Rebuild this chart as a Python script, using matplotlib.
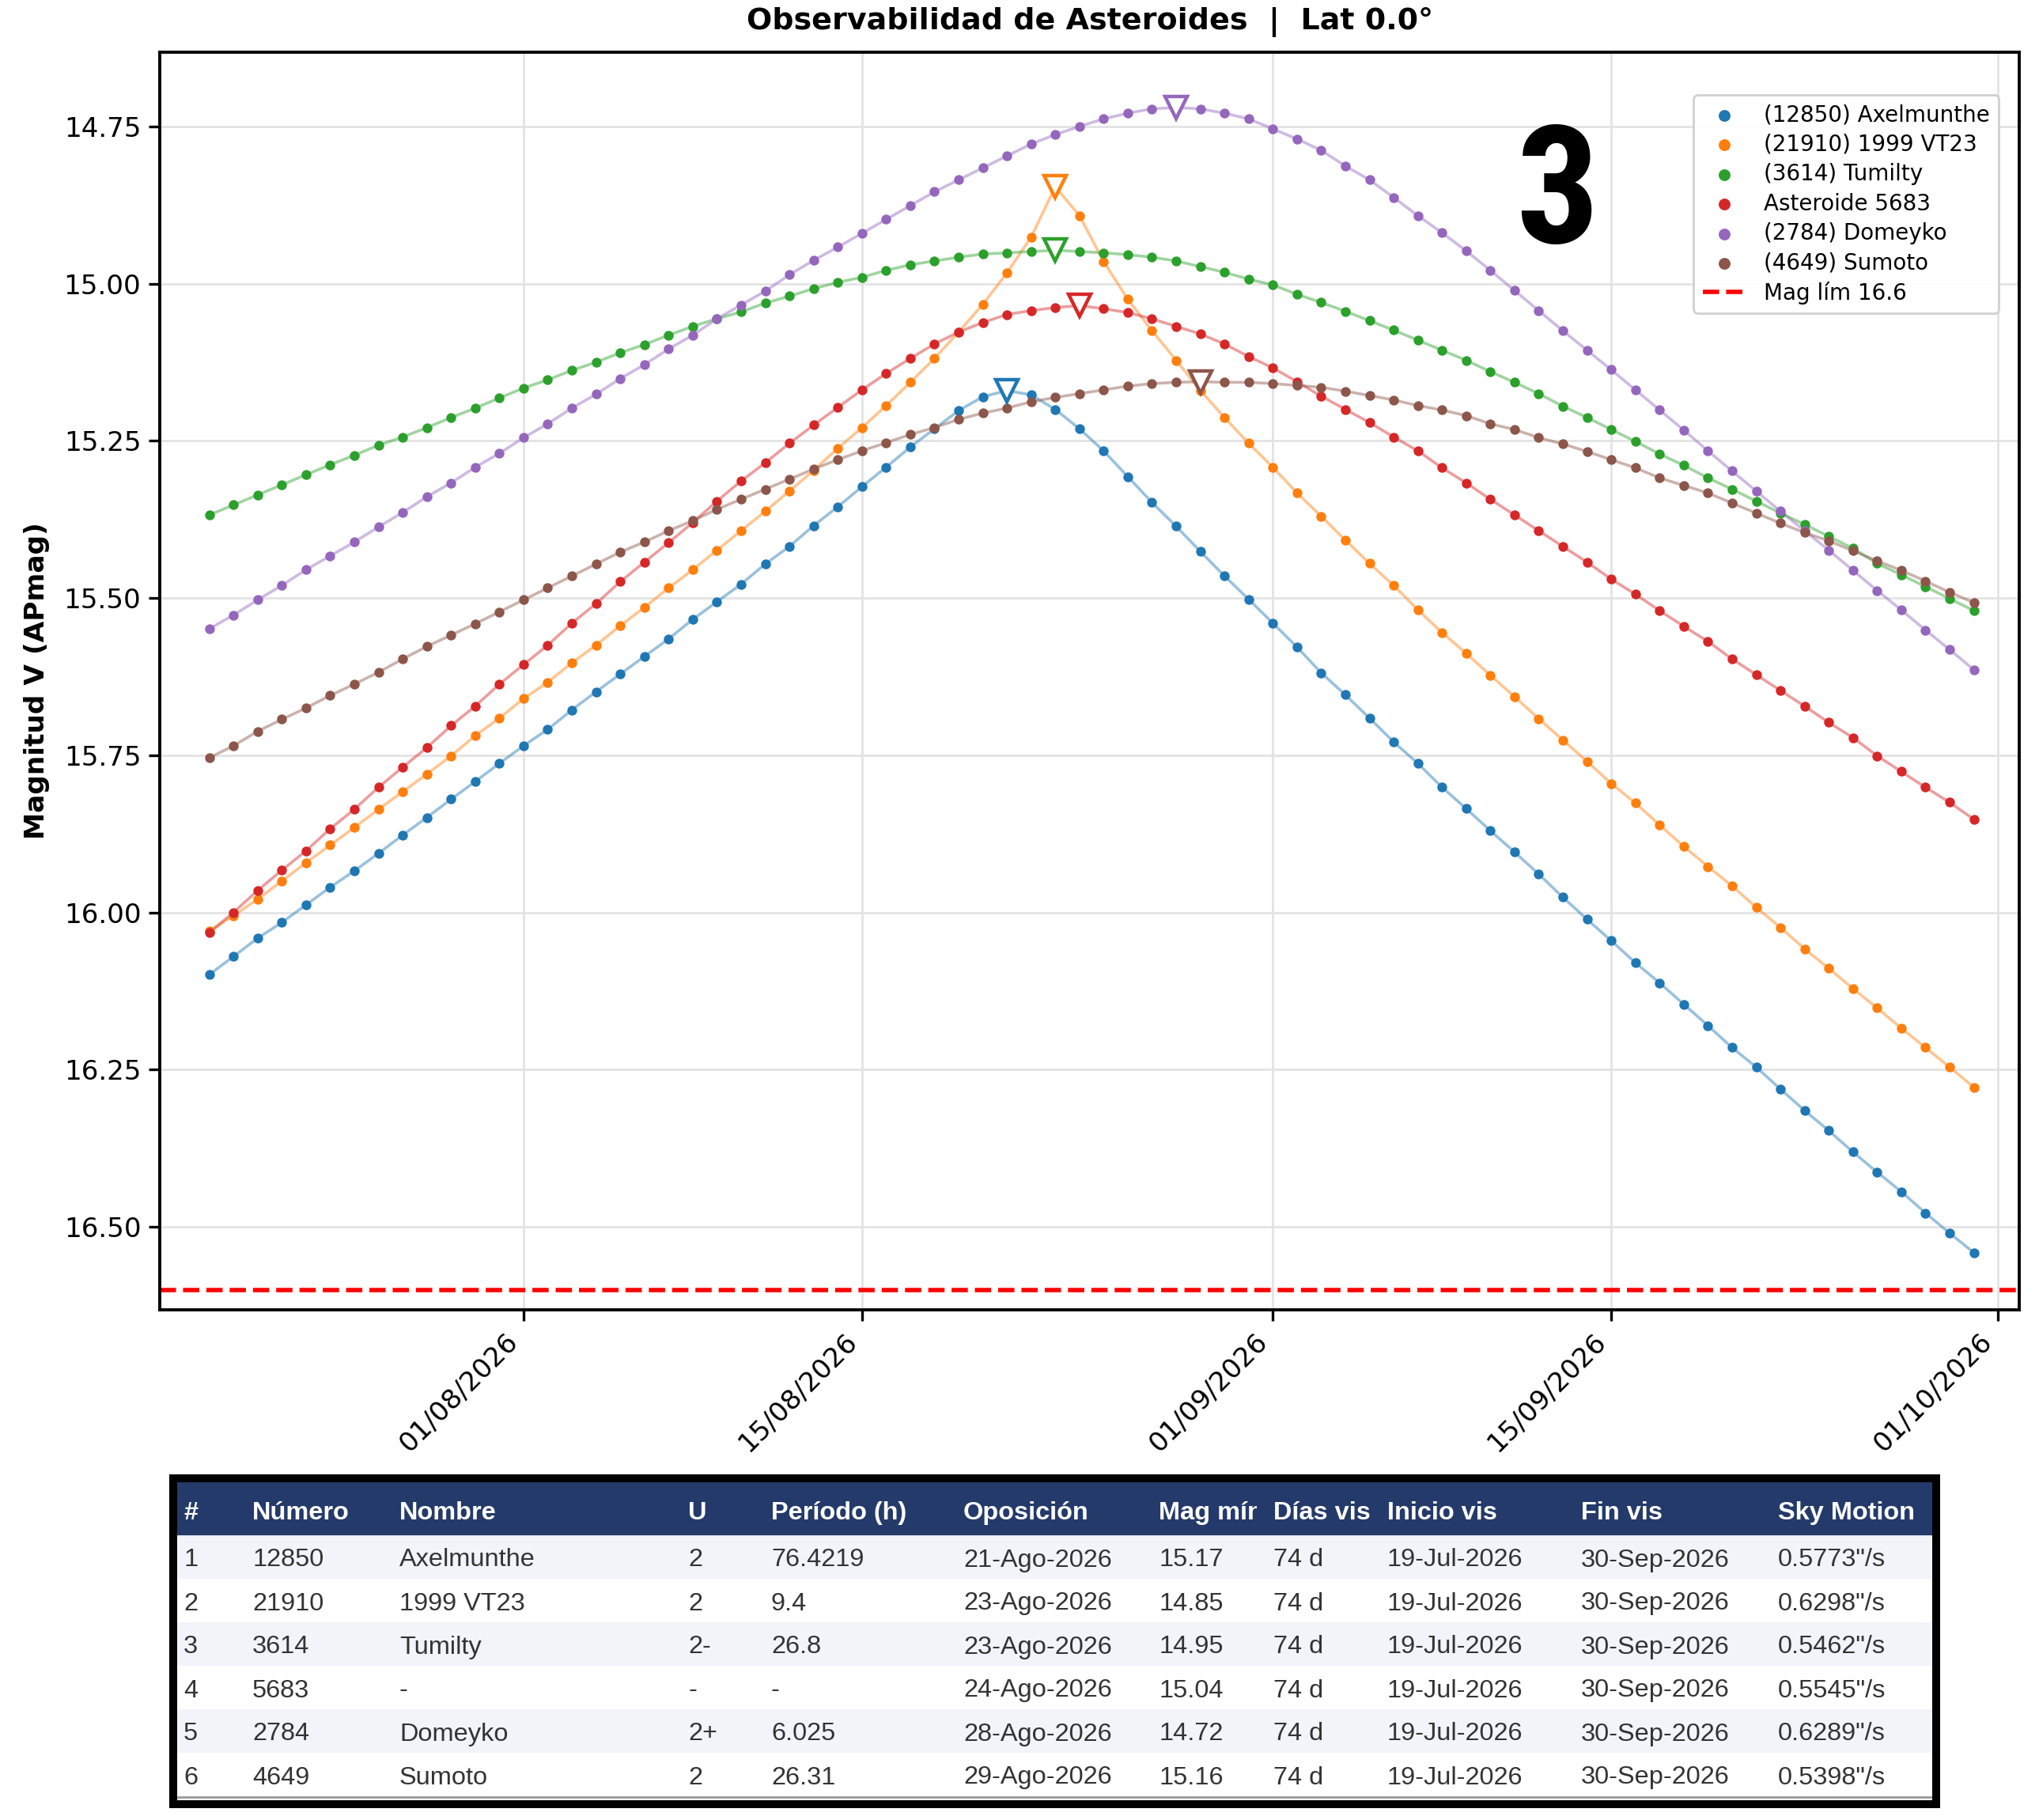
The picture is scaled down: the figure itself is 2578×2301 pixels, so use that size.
import numpy as np
import pandas as pd
import matplotlib
matplotlib.use('Agg')
import matplotlib.pyplot as plt
import matplotlib.dates as mdates
from matplotlib.patches import Rectangle

# daily ephemeris points, 19-Jul-2026 .. 30-Sep-2026
dates = pd.date_range('2026-07-19', periods=74, freq='D')

labels = ['(12850) Axelmunthe', '(21910) 1999 VT23', '(3614) Tumilty',
          'Asteroide 5683', '(2784) Domeyko', '(4649) Sumoto']
colors = ['#1f77b4', '#ff7f0e', '#2ca02c', '#d62728', '#9467bd', '#8c564b']

mag_12850 = [16.099, 16.070, 16.041, 16.016, 15.988, 15.960, 15.934, 15.906, 15.877, 15.849,
             15.820, 15.792, 15.763, 15.735, 15.709, 15.678, 15.649, 15.621, 15.593, 15.565,
             15.534, 15.506, 15.478, 15.446, 15.418, 15.385, 15.355, 15.323, 15.292, 15.260,
             15.231, 15.202, 15.180, 15.170, 15.177, 15.200, 15.231, 15.266, 15.307, 15.348,
             15.386, 15.426, 15.465, 15.502, 15.540, 15.578, 15.619, 15.654, 15.691, 15.729,
             15.763, 15.801, 15.835, 15.870, 15.904, 15.939, 15.976, 16.011, 16.045, 16.080,
             16.112, 16.146, 16.180, 16.215, 16.246, 16.281, 16.315, 16.347, 16.381, 16.413,
             16.444, 16.478, 16.510, 16.541]
mag_21910 = [16.030, 16.005, 15.979, 15.950, 15.921, 15.893, 15.865, 15.836, 15.808, 15.780,
             15.751, 15.719, 15.691, 15.660, 15.634, 15.603, 15.575, 15.544, 15.515, 15.484,
             15.455, 15.424, 15.393, 15.362, 15.330, 15.297, 15.262, 15.229, 15.194, 15.157,
             15.119, 15.077, 15.033, 14.983, 14.926, 14.846, 14.892, 14.965, 15.025, 15.075,
             15.122, 15.170, 15.213, 15.254, 15.292, 15.333, 15.370, 15.408, 15.445, 15.480,
             15.519, 15.555, 15.588, 15.623, 15.657, 15.692, 15.726, 15.760, 15.795, 15.826,
             15.861, 15.895, 15.927, 15.958, 15.992, 16.024, 16.058, 16.089, 16.121, 16.152,
             16.184, 16.215, 16.246, 16.278]
mag_3614 = [15.368, 15.352, 15.336, 15.320, 15.304, 15.288, 15.273, 15.257, 15.244, 15.229,
            15.213, 15.198, 15.182, 15.166, 15.153, 15.138, 15.125, 15.110, 15.097, 15.082,
            15.068, 15.056, 15.045, 15.031, 15.020, 15.008, 14.998, 14.990, 14.979, 14.970,
            14.964, 14.958, 14.953, 14.951, 14.949, 14.947, 14.949, 14.951, 14.954, 14.958,
            14.964, 14.973, 14.982, 14.993, 15.002, 15.017, 15.030, 15.044, 15.059, 15.074,
            15.090, 15.106, 15.122, 15.140, 15.157, 15.175, 15.195, 15.213, 15.232, 15.251,
            15.271, 15.289, 15.309, 15.327, 15.346, 15.365, 15.383, 15.402, 15.421, 15.445,
            15.463, 15.482, 15.501, 15.520]
mag_5683 = [16.032, 16.000, 15.965, 15.933, 15.902, 15.867, 15.836, 15.801, 15.769, 15.738,
            15.703, 15.672, 15.637, 15.606, 15.575, 15.540, 15.509, 15.474, 15.443, 15.412,
            15.380, 15.346, 15.314, 15.285, 15.254, 15.225, 15.197, 15.169, 15.143, 15.119,
            15.096, 15.077, 15.062, 15.049, 15.043, 15.038, 15.035, 15.040, 15.046, 15.056,
            15.068, 15.080, 15.096, 15.116, 15.134, 15.156, 15.179, 15.200, 15.221, 15.244,
            15.266, 15.293, 15.317, 15.343, 15.368, 15.393, 15.418, 15.443, 15.470, 15.494,
            15.520, 15.545, 15.569, 15.597, 15.622, 15.647, 15.672, 15.698, 15.722, 15.751,
            15.776, 15.801, 15.825, 15.852]
mag_2784 = [15.549, 15.527, 15.503, 15.480, 15.455, 15.433, 15.411, 15.387, 15.364, 15.339,
            15.317, 15.292, 15.270, 15.245, 15.223, 15.198, 15.176, 15.151, 15.129, 15.104,
            15.082, 15.056, 15.034, 15.012, 14.986, 14.963, 14.942, 14.920, 14.898, 14.876,
            14.854, 14.835, 14.816, 14.797, 14.778, 14.763, 14.750, 14.738, 14.729, 14.722,
            14.720, 14.722, 14.729, 14.738, 14.754, 14.770, 14.788, 14.813, 14.835, 14.863,
            14.892, 14.919, 14.948, 14.979, 15.011, 15.043, 15.075, 15.106, 15.137, 15.169,
            15.201, 15.233, 15.266, 15.298, 15.330, 15.362, 15.393, 15.424, 15.456, 15.488,
            15.519, 15.551, 15.582, 15.614]
mag_4649 = [15.754, 15.735, 15.712, 15.693, 15.675, 15.655, 15.637, 15.618, 15.597, 15.577,
            15.559, 15.541, 15.522, 15.503, 15.484, 15.465, 15.446, 15.427, 15.411, 15.393,
            15.377, 15.359, 15.343, 15.327, 15.311, 15.295, 15.280, 15.266, 15.253, 15.240,
            15.229, 15.216, 15.206, 15.198, 15.188, 15.181, 15.175, 15.169, 15.163, 15.159,
            15.157, 15.156, 15.157, 15.157, 15.159, 15.162, 15.165, 15.171, 15.178, 15.185,
            15.194, 15.201, 15.210, 15.223, 15.232, 15.245, 15.255, 15.267, 15.280, 15.293,
            15.309, 15.321, 15.333, 15.349, 15.365, 15.381, 15.396, 15.409, 15.425, 15.441,
            15.456, 15.473, 15.491, 15.507]
series = [mag_12850, mag_21910, mag_3614, mag_5683, mag_2784, mag_4649]

# day index of opposition (open triangle marker)
opp_idx = [33, 35, 35, 36, 40, 41]
mag_lim = 16.6

yticks = [14.75, 15.00, 15.25, 15.50, 15.75, 16.00, 16.25, 16.50]
xticks = ['2026-08-01', '2026-08-15', '2026-09-01', '2026-09-15', '2026-10-01']

# table contents
col_names = ['#', 'Número', 'Nombre', 'U', 'Período (h)', 'Oposición', 'Mag mín',
             'Días vis', 'Inicio vis', 'Fin vis', 'Sky Motion']
tbl_num = ['12850', '21910', '3614', '5683', '2784', '4649']
tbl_name = ['Axelmunthe', '1999 VT23', 'Tumilty', '-', 'Domeyko', 'Sumoto']
tbl_u = ['2', '2', '2-', '-', '2+', '2']
tbl_period = ['76.4219', '9.4', '26.8', '-', '6.025', '26.31']
tbl_opp = ['21-Ago-2026', '23-Ago-2026', '23-Ago-2026', '24-Ago-2026', '28-Ago-2026', '29-Ago-2026']
tbl_magmin = ['15.17', '14.85', '14.95', '15.04', '14.72', '15.16']
tbl_days = ['74 d'] * 6
tbl_start = ['19-Jul-2026'] * 6
tbl_end = ['30-Sep-2026'] * 6
tbl_motion = ['0.5773"/s', '0.6298"/s', '0.5462"/s', '0.5545"/s', '0.6289"/s', '0.5398"/s']

W, H = 2578, 2301
DPI = 200
fig = plt.figure(figsize=(W / DPI, H / DPI), dpi=DPI)

def fx(px):
    return px / W

def fy(py):
    return 1 - py / H

ax = fig.add_axes([fx(202), fy(1656), fx(2553) - fx(202), fy(66) - fy(1656)])

handles = []
for mags, lab, c, k in zip(series, labels, colors, opp_idx):
    ax.plot(dates, mags, color=c, alpha=0.45, lw=1.3, zorder=2)
    h = ax.scatter(dates, mags, s=20, color=c, label=lab, zorder=3, linewidths=0)
    handles.append(h)
    ax.plot(dates[k], mags[k], 'v', ms=10, mfc='white', mec=c, mew=1.6, zorder=4)

hl = ax.axhline(mag_lim, color='red', ls='--', lw=2, label=f'Mag lím {mag_lim}')
handles.append(hl)

ax.set_ylim(16.632, 14.632)
ax.set_yticks(yticks)
ax.set_yticklabels([f'{v:.2f}' for v in yticks])
x0 = mdates.date2num(dates[0]) - 2.05
x1 = mdates.date2num(dates[-1]) + 1.88
ax.set_xlim(x0, x1)
ax.set_xticks([mdates.date2num(pd.Timestamp(d)) for d in xticks])
ax.xaxis.set_major_formatter(mdates.DateFormatter('%d/%m/%Y'))
plt.setp(ax.get_xticklabels(), rotation=45, ha='right')
ax.tick_params(labelsize=12.3, length=5, width=1.2)
ax.grid(True, color='#e3e3e3', lw=1)
ax.set_axisbelow(True)
for s in ax.spines.values():
    s.set_linewidth(1.4)

ax.set_ylabel('Magnitud V (APmag)', fontsize=12.4, fontweight='bold', labelpad=6.5)
fig.text(fx(1378), fy(28), 'Observabilidad de Asteroides  |  Lat 0.0°', fontsize=13.7,
         fontweight='bold', ha='center', va='center')

ax.legend(handles=handles, loc='upper right', bbox_to_anchor=(0.989, 0.966),
          borderaxespad=0, fontsize=10, framealpha=0.9, edgecolor='#cccccc',
          labelspacing=0.34, markerscale=1.2)

fig.text(fx(1969), fy(307), '3', fontsize=75, fontweight='bold',
         family=['Roboto Condensed', 'Roboto'], ha='center', va='baseline')

# ---- table ----
tl, tr, tt, tb = 224, 2443, 1874, 2276
tax = fig.add_axes([fx(tl), fy(tb), fx(tr) - fx(tl), fy(tt) - fy(tb)])
tax.set_xlim(tl, tr)
tax.set_ylim(tb, tt)
tax.axis('off')

header_top, header_bot = 1874, 1942
row_h = 55
tax.add_patch(Rectangle((tl, header_top), tr - tl, header_bot - header_top,
                        color='#243a6a', zorder=1))
rows = list(zip(range(1, 7), tbl_num, tbl_name, tbl_u, tbl_period, tbl_opp,
                tbl_magmin, tbl_days, tbl_start, tbl_end, tbl_motion))
for r in range(6):
    y0 = header_bot + r * row_h
    tax.add_patch(Rectangle((tl, y0), tr - tl, row_h,
                            color='#f2f4fa' if r % 2 == 0 else 'white', zorder=1))
col_x = [232, 319, 505, 870, 975, 1218, 1465, 1610, 1754, 1999, 2248]
col_clip = [None, None, None, None, None, None, 1589, None, None, None, None]

def cell(x, y, s, clip, **kw):
    t = tax.text(x, y, s, ha='left', va='center', family='Liberation Sans',
                 fontsize=11.7, zorder=3, **kw)
    if clip is not None:
        rect = Rectangle((x - 5, tt), clip - x + 5, tb - tt, transform=tax.transData)
        t.set_clip_path(rect)
        t.set_clip_on(True)

for x, name, clip in zip(col_x, col_names, col_clip):
    cell(x, (header_top + header_bot) / 2 + 5, name, clip, color='white', fontweight='bold')
for r, row in enumerate(rows):
    yc = header_bot + r * row_h + row_h / 2 + 3
    for x, val, clip in zip(col_x, row, col_clip):
        cell(x, yc, str(val), clip, color='#333333')

tax.plot([tl, tr], [tb - 4, tb - 4], color='#999999', lw=1, zorder=2)
fig.patches.append(Rectangle((fx(tl - 5), fy(tb + 5)), fx(tr + 5) - fx(tl - 5),
                             fy(tt - 5) - fy(tb + 5), transform=fig.transFigure,
                             fill=False, edgecolor='black', lw=3.6, zorder=5))

fig.savefig('out.png', dpi=DPI)
